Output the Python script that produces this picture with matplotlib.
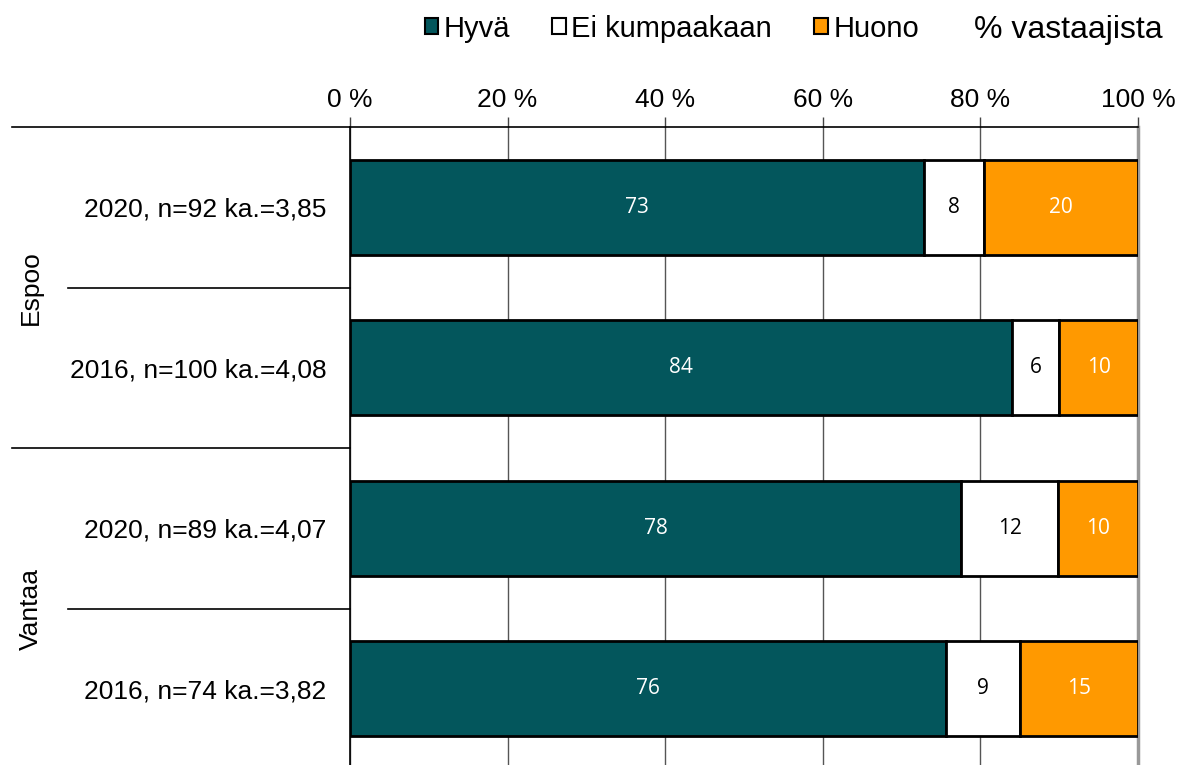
import matplotlib
matplotlib.use("Agg")
import matplotlib.pyplot as plt
from matplotlib.patches import Patch
import matplotlib.transforms as mtransforms

categories = ["2020, n=92 ka.=3,85", "2016, n=100 ka.=4,08",
              "2020, n=89 ka.=4,07", "2016, n=74 ka.=3,82"]
groups = ["Espoo", "Vantaa"]
series_names = ["Hyvä", "Ei kumpaakaan", "Huono"]
hyva = [72.8, 84.0, 77.6, 75.6]
ei_kumpaakaan = [7.6, 6.0, 12.3, 9.4]
huono = [19.6, 10.0, 10.1, 15.0]
xticks = [0, 20, 40, 60, 80, 100]

colors = ["#03565C", "#FFFFFF", "#FF9900"]
label_colors = ["white", "black", "white"]

plt.rcParams['font.family'] = ['Liberation Sans', 'DejaVu Sans']

W, H = 1186, 765
fig = plt.figure(figsize=(W / 100, H / 100), dpi=100)
ax = fig.add_axes([350 / W, -4 / H, (1138 - 350) / W, (769 - 127) / H])

y = list(range(len(categories)))
left = [0.0] * len(categories)
for vals, col, lc in zip([hyva, ei_kumpaakaan, huono], colors, label_colors):
    bars = ax.barh(y, vals, left=left, height=0.59, color=col,
                   edgecolor="black", linewidth=2.0, zorder=3)
    for b, v in zip(bars, vals):
        ax.text(b.get_x() + b.get_width() / 2, b.get_y() + b.get_height() / 2,
                f"{v:.0f}", ha="center", va="center", color=lc,
                fontsize=15, family=["Open Sans", "DejaVu Sans"], zorder=4)
    left = [l + v for l, v in zip(left, vals)]

ax.set_xlim(0, 100)
ax.set_ylim(len(categories) - 0.5, -0.5)
ax.set_yticks(y)
ax.set_yticklabels(categories, fontsize=19)
ax.tick_params(axis="y", length=0, pad=17)
ax.xaxis.tick_top()
ax.set_xticks(xticks)
ax.set_xticklabels([f"{t} %" for t in xticks], fontsize=19)
ax.tick_params(axis="x", length=7, width=1, pad=4, color="#444444")

ax.grid(axis="x", color="#555555", linewidth=1, zorder=0)
ax.set_axisbelow(True)
ax.spines["bottom"].set_visible(False)
ax.spines["right"].set_color("#999999")
ax.spines["right"].set_linewidth(2.5)
ax.spines["left"].set_color("black")
ax.spines["top"].set_color("black")
ax.spines["left"].set_linewidth(1.2)
ax.spines["top"].set_linewidth(1.2)

# group separators in the left margin
trans = mtransforms.blended_transform_factory(fig.transFigure, ax.transData)
for yb, x0 in [(-0.5, 12), (0.5, 68), (1.5, 12), (2.5, 68)]:
    ax.add_line(plt.Line2D([x0 / W, 350 / W], [yb, yb], transform=trans,
                           color="black", linewidth=1.2, clip_on=False))
for g, yc in zip(groups, [0.5, 2.5]):
    ax.text(31 / W, yc, g, transform=trans, rotation=90, ha="center",
            va="center", fontsize=19)

handles = [Patch(facecolor=c, edgecolor="black", linewidth=1.5) for c in colors]
fig.legend(handles, series_names, loc="upper left",
           bbox_to_anchor=(413 / W, 1.0 - 3 / H), ncol=3, frameon=False,
           fontsize=21, handlelength=0.45, handleheight=0.45, handletextpad=0.2,
           columnspacing=1.45, borderaxespad=0)
fig.text(1163 / W, 1 - 30 / H, "% vastaajista", ha="right", va="center",
         fontsize=23)

fig.savefig("out.png", dpi=100)
